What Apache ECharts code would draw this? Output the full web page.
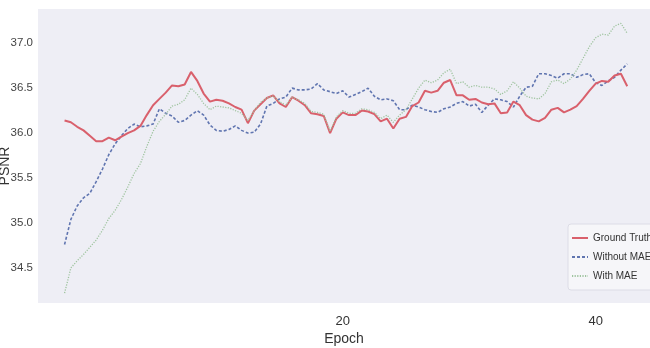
<!DOCTYPE html>
<html>
<head>
<meta charset="utf-8">
<script src="https://cdn.jsdelivr.net/npm/echarts@6/dist/echarts.min.js"></script>
<style>
  html, body { margin: 0; padding: 0; background: #ffffff; }
  #chart { width: 650px; height: 348px; }
</style>
</head>
<body>
<div id="chart"></div>
<script>
// Training epochs (half-epoch resolution)
const epochs = [
  -2, -1.5, -1, -0.5, 0, 0.5, 1, 1.5, 2, 2.5, 3, 3.5, 4, 4.5, 5, 5.5, 6, 6.5, 7, 7.5,
  8, 8.5, 9, 9.5, 10, 10.5, 11, 11.5, 12, 12.5, 13, 13.5, 14, 14.5, 15, 15.5, 16, 16.5, 17, 17.5,
  18, 18.5, 19, 19.5, 20, 20.5, 21, 21.5, 22, 22.5, 23, 23.5, 24, 24.5, 25, 25.5, 26, 26.5, 27, 27.5,
  28, 28.5, 29, 29.5, 30, 30.5, 31, 31.5, 32, 32.5, 33, 33.5, 34, 34.5, 35, 35.5, 36, 36.5, 37, 37.5,
  38, 38.5, 39, 39.5, 40, 40.5, 41, 41.5, 42, 42.5
];

// PSNR per epoch
const groundTruth = [
  36.14, 36.12, 36.07, 36.03, 35.97, 35.91, 35.91, 35.95, 35.92, 35.96,
  36.00, 36.03, 36.08, 36.20, 36.31, 36.38, 36.45, 36.53, 36.52, 36.54,
  36.68, 36.58, 36.44, 36.35, 36.37, 36.36, 36.33, 36.29, 36.26, 36.11,
  36.25, 36.32, 36.39, 36.42, 36.33, 36.29, 36.40, 36.36, 36.31, 36.22,
  36.21, 36.19, 36.00, 36.16, 36.23, 36.20, 36.20, 36.25, 36.24, 36.21,
  36.13, 36.16, 36.05, 36.16, 36.18, 36.30, 36.34, 36.47, 36.45, 36.47,
  36.56, 36.59, 36.42, 36.42, 36.37, 36.38, 36.34, 36.32, 36.33, 36.22,
  36.23, 36.35, 36.31, 36.20, 36.15, 36.13, 36.17, 36.26, 36.28, 36.23,
  36.26, 36.30, 36.38, 36.47, 36.55, 36.58, 36.57, 36.64, 36.66, 36.52
];

const withoutMAE = [
  34.76, 35.04, 35.19, 35.28, 35.33, 35.46, 35.60, 35.76, 35.88, 35.97,
  36.05, 36.10, 36.07, 36.08, 36.10, 36.27, 36.22, 36.19, 36.12, 36.14,
  36.20, 36.25, 36.20, 36.09, 36.03, 36.02, 36.04, 36.08, 36.03, 36.00,
  36.01, 36.10, 36.30, 36.33, 36.38, 36.40, 36.50, 36.48, 36.48, 36.49,
  36.55, 36.48, 36.46, 36.44, 36.47, 36.40, 36.43, 36.46, 36.50, 36.41,
  36.37, 36.38, 36.36, 36.26, 36.26, 36.31, 36.29, 36.26, 36.24, 36.23,
  36.27, 36.29, 36.33, 36.35, 36.30, 36.32, 36.23, 36.31, 36.38, 36.37,
  36.35, 36.29, 36.41, 36.51, 36.52, 36.66, 36.66, 36.64, 36.61, 36.66,
  36.66, 36.62, 36.65, 36.66, 36.56, 36.53, 36.58, 36.62, 36.70, 36.77
];

const withMAE = [
  34.22, 34.50, 34.58, 34.65, 34.73, 34.81, 34.92, 35.05, 35.14, 35.26,
  35.40, 35.55, 35.66, 35.85, 36.02, 36.13, 36.21, 36.30, 36.32, 36.37,
  36.50, 36.43, 36.33, 36.26, 36.30, 36.29, 36.28, 36.25, 36.22, 36.14,
  36.25, 36.34, 36.39, 36.41, 36.35, 36.31, 36.40, 36.37, 36.33, 36.24,
  36.23, 36.21, 36.02, 36.18, 36.25, 36.22, 36.22, 36.27, 36.26, 36.23,
  36.16, 36.20, 36.12, 36.20, 36.26, 36.38, 36.50, 36.59, 36.56, 36.59,
  36.67, 36.71, 36.55, 36.57, 36.51, 36.53, 36.51, 36.51, 36.49, 36.43,
  36.47, 36.57, 36.50, 36.41, 36.39, 36.38, 36.44, 36.57, 36.59, 36.55,
  36.60, 36.70, 36.83, 36.96, 37.06, 37.10, 37.09, 37.19, 37.22, 37.11
];

const xTicks = [20, 40];
const yTicks = [34.5, 35.0, 35.5, 36.0, 36.5, 37.0];

const FONT = '"Liberation Sans", Arial, sans-serif';

const pairs = (vals) => epochs.map((e, i) => [e, vals[i]]);

const chart = echarts.init(document.getElementById('chart'), null, { renderer: 'canvas' });

chart.setOption({
  animation: false,
  backgroundColor: '#ffffff',
  grid: {
    left: 38, top: 9, right: 0, bottom: 45,
    outerBoundsMode: 'none',
    containLabel: false,
    show: true, backgroundColor: '#eeeef5', borderWidth: 0
  },
  xAxis: {
    type: 'value',
    min: -4.1, max: 44.3,
    name: 'Epoch',
    nameLocation: 'middle',
    nameGap: 29,
    nameMoveOverlap: false,
    nameTextStyle: { fontFamily: FONT, fontSize: 14, color: '#333333' },
    axisLine: { show: false },
    axisTick: { show: false },
    splitLine: { show: false },
    axisLabel: {
      customValues: xTicks,
      margin: 12,
      fontFamily: FONT, fontSize: 13, color: '#333333'
    }
  },
  yAxis: {
    type: 'value',
    min: 34.11, max: 37.38,
    name: 'PSNR',
    nameLocation: 'middle',
    nameGap: 26,
    nameRotate: 90,
    nameMoveOverlap: false,
    nameTextStyle: { fontFamily: FONT, fontSize: 14, color: '#333333', padding: [0, 20, 0, 0] },
    axisLine: { show: false },
    axisTick: { show: false },
    splitLine: { show: false },
    axisLabel: {
      customValues: yTicks,
      margin: 5,
      fontFamily: FONT, fontSize: 11.5, color: '#444444',
      formatter: (v) => v.toFixed(1)
    }
  },
  legend: {
    orient: 'vertical',
    left: 568, top: 224,
    padding: [9, 12, 9, 3],
    itemGap: 9,
    itemWidth: 16,
    itemHeight: 12,
    itemStyle: { opacity: 0 },
    backgroundColor: 'rgba(246,246,250,0.9)',
    borderColor: '#dcdce6',
    borderWidth: 1,
    borderRadius: 3,
    textStyle: { fontFamily: FONT, fontSize: 10, color: '#333333' },
    data: ['Ground Truth', 'Without MAE', 'With MAE']
  },
  series: [
    {
      name: 'Ground Truth',
      type: 'line',
      data: pairs(groundTruth),
      symbol: 'none',
      z: 3,
      lineStyle: { color: '#d9606c', width: 2 },
      itemStyle: { color: '#d9606c' }
    },
    {
      name: 'Without MAE',
      type: 'line',
      data: pairs(withoutMAE),
      symbol: 'none',
      z: 2,
      lineStyle: { color: '#6075b0', width: 1.6, type: [3, 2] },
      itemStyle: { color: '#6075b0' }
    },
    {
      name: 'With MAE',
      type: 'line',
      data: pairs(withMAE),
      symbol: 'none',
      z: 4,
      lineStyle: { color: '#9fc49f', width: 1.3, type: [1.2, 1.4] },
      itemStyle: { color: '#9fc49f' }
    }
  ]
});
</script>
</body>
</html>
